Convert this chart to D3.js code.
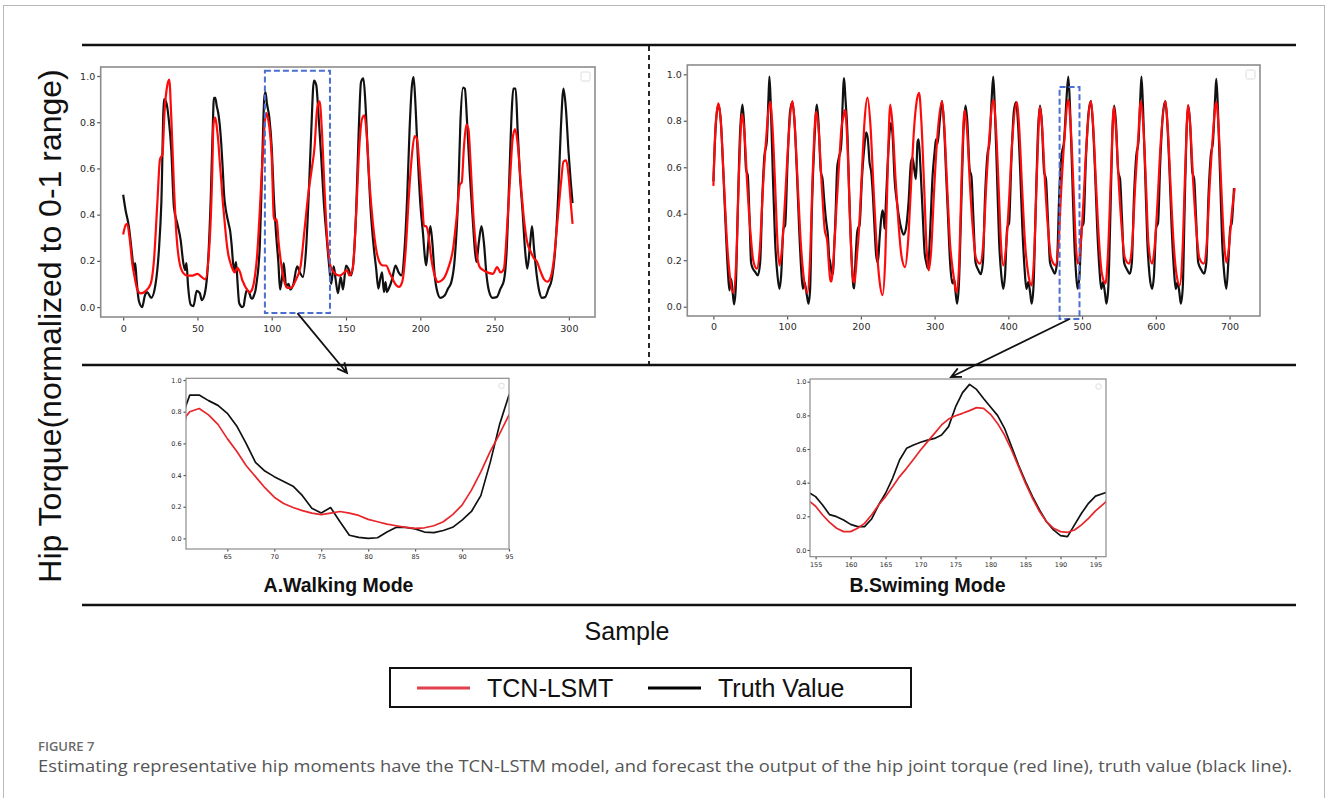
<!DOCTYPE html>
<html>
<head>
<meta charset="utf-8">
<script src="https://cdn.jsdelivr.net/npm/d3@7"></script>
<style>
body { margin: 0; background: #fff; }
</style>
</head>
<body>
<script>
// values: [sample, normalized torque]
const walkTruth = [[0,0.486],[1.6,0.42],[3.8,0.35],[6.1,0.22],[7.2,0.155],[8.1,0.19],[9,0.12],[10.6,0.026],[12.8,0.0],[14.6,0.05],[16.2,0.065],[18.9,0.04],[21.8,0.10],[24.1,0.25],[25.7,0.45],[27.5,0.90],[28.8,0.89],[30.9,0.80],[32.4,0.68],[34.2,0.43],[36.5,0.36],[38.7,0.29],[40.5,0.19],[41.7,0.16],[42.6,0.19],[43.7,0.09],[45.5,0.01],[47.3,0.004],[49.5,0.07],[51.6,0.06],[52.9,0.03],[55,0.06],[57.2,0.20],[59,0.48],[60.6,0.84],
[61,0.905],[62,0.905],[63,0.87],[64,0.84],[65,0.79],[66,0.71],[67,0.60],[68,0.48],[69,0.425],[70,0.39],[71,0.36],[72,0.33],[73,0.27],[74,0.19],[75,0.16],[76,0.195],[77,0.105],[78,0.02],[79,0.006],[80,0.0],[81,0.004],[82,0.04],[83,0.07],[84,0.07],[85,0.06],[86,0.04],[87,0.036],[88,0.05],[89,0.07],[90,0.115],[91,0.17],[92,0.27],[93,0.48],[94,0.72],[95,0.905],
[95.8,0.93],[96.8,0.88],[98.4,0.82],[100,0.69],[101.4,0.48],[102.9,0.32],[104.5,0.19],[105.6,0.076],[106.8,0.12],[108.1,0.19],[109.7,0.09],[111.3,0.10],[112.6,0.076],[114.6,0.10],[117.1,0.176],[119.1,0.147],[121,0.13],[123.2,0.26],[125,0.50],[126.6,0.76],[128.4,0.98],[130,0.96],[131.5,0.83],[133.3,0.65],[135.1,0.45],[137,0.30],[138.7,0.176],[140,0.10],[141.7,0.176],[143,0.12],[144.6,0.06],[146.4,0.13],[148,0.076],[150,0.18],[151.6,0.166],[153.4,0.137],[155,0.195],[156.8,0.41],[158.6,0.77],[160.1,0.974],[161.7,0.99],[163,0.89],[164.6,0.67],[166.4,0.44],[168.5,0.27],[170.3,0.166],[171.8,0.08],[173,0.12],[174.3,0.15],[175.5,0.065],[176.6,0.108],[177.5,0.065],[178.8,0.08],[181,0.12],[183.3,0.18],[185.4,0.15],[187.2,0.137],[189.4,0.25],[191.2,0.48],[192.8,0.77],[194.4,0.96],[195.5,0.995],[196.8,0.87],[198.4,0.64],[200,0.45],[201.8,0.32],[203.2,0.21],[204,0.18],[205.4,0.28],[206.8,0.35],[208.1,0.28],[209.7,0.137],[211.5,0.065],[213.5,0.04],[216.4,0.05],[218.7,0.08],[220.9,0.108],[223.2,0.21],[225.5,0.48],[227,0.80],[228.8,0.95],[230,0.945],[231.5,0.80],[233.3,0.58],[235.1,0.40],[236.7,0.25],[237.8,0.195],[239.4,0.28],[241.2,0.35],[242.8,0.28],[244.6,0.137],[246.4,0.065],[248.6,0.04],[251.4,0.043],[254,0.08],[256.3,0.115],[258.1,0.24],[259.9,0.555],[261.5,0.84],[262.6,0.945],[264.2,0.945],[265.5,0.77],[267.1,0.57],[268.9,0.41],[270.5,0.25],[272,0.166],[273.9,0.27],[275.2,0.35],[276.6,0.25],[278.4,0.137],[280.2,0.065],[281.8,0.04],[284,0.043],[286.3,0.08],[288.5,0.12],[290.8,0.25],[293,0.51],[294.6,0.77],[296.4,0.945],[298,0.86],[299.8,0.67],[301.3,0.54],[302.5,0.45]];

const walkPred = [[0,0.314],[1.6,0.354],[2.7,0.36],[4.5,0.29],[6.1,0.19],[7.7,0.13],[9.5,0.076],[11.7,0.059],[15.1,0.069],[18.5,0.10],[20.7,0.20],[23,0.45],[24.8,0.64],[26.4,0.66],[27.9,0.85],[29.7,0.96],[31,0.985],[32.4,0.82],[34.2,0.52],[36,0.30],[38,0.19],[40.5,0.147],[43.2,0.136],[46.6,0.136],[50,0.144],[52.3,0.133],[55.2,0.12],[57.9,0.25],[60.1,0.62],[60.6,0.77],
[61,0.80],[62,0.82],[63,0.78],[64,0.72],[65,0.63],[66,0.55],[67,0.46],[68,0.39],[69,0.32],[70,0.26],[71,0.22],[72,0.195],[73,0.175],[74,0.16],[75,0.15],[76,0.16],[77,0.17],[78,0.16],[79,0.145],[80,0.12],[81,0.105],[82,0.09],[83,0.08],[84,0.07],[85,0.063],[86,0.067],[87,0.08],[88,0.105],[89,0.15],[90,0.21],[91,0.305],[92,0.42],[93,0.55],[94,0.66],[95,0.78],
[96.3,0.84],[97.3,0.82],[98.4,0.78],[100,0.65],[101.4,0.39],[102.3,0.375],[103.4,0.38],[104.5,0.29],[106.3,0.19],[108.1,0.12],[110.4,0.083],[113,0.083],[116.4,0.12],[119.4,0.176],[122,0.33],[124.8,0.50],[127,0.60],[128.8,0.69],[130.6,0.86],[132.2,0.89],[133.8,0.76],[135.6,0.50],[137.4,0.29],[139.6,0.176],[142.3,0.147],[145.7,0.136],[148.9,0.15],[150.5,0.16],[152.3,0.137],[154.5,0.166],[156.8,0.40],[159,0.70],[160.8,0.815],[162.4,0.83],[164,0.74],[165.8,0.54],[168,0.37],[170.3,0.25],[172.5,0.195],[174.8,0.18],[177,0.18],[179.3,0.15],[181.5,0.12],[183.8,0.094],[185.6,0.087],[187.8,0.108],[190.1,0.24],[192.3,0.48],[194.4,0.66],[196.2,0.74],[197.7,0.73],[199.5,0.60],[201.4,0.44],[202.5,0.35],[204,0.35],[205.2,0.325],[207.4,0.21],[209.7,0.137],[211.9,0.108],[215.3,0.12],[218.7,0.166],[222,0.25],[224.8,0.41],[226.6,0.53],[227.9,0.54],[229.3,0.685],[231,0.79],[232.4,0.77],[233.8,0.63],[235.6,0.41],[237.8,0.24],[240,0.173],[242.3,0.16],[245.6,0.149],[249,0.144],[251.7,0.173],[254,0.15],[256.3,0.166],[258.1,0.31],[260.4,0.555],[262.2,0.73],[263.8,0.77],[265.5,0.71],[267.6,0.54],[269.8,0.38],[272,0.28],[274.3,0.24],[276.6,0.21],[278.4,0.198],[280.6,0.16],[283.3,0.12],[285.5,0.11],[287.8,0.13],[290,0.21],[292.3,0.37],[294.6,0.53],[296.4,0.63],[298.2,0.635],[299.8,0.57],[301.3,0.45],[302.5,0.36]];

const swimTruth = [[0,0.54],[3,0.77],[6.8,0.87],[10,0.80],[13.6,0.57],[16.7,0.34],[19.5,0.16],[21.7,0.07],[24,0.12],[26.2,0.06],[28,0.01],[30.3,0.08],[33,0.41],[36.2,0.75],[39.4,0.87],[41.6,0.79],[44.3,0.59],[46.6,0.565],[48.9,0.39],[51.1,0.19],[53.4,0.165],[56.6,0.15],[60.2,0.135],[63.4,0.19],[66.5,0.48],[69.2,0.65],[72.4,0.71],[74.7,0.90],[76,0.99],[77.8,0.87],[80.5,0.58],[83.7,0.28],[86.9,0.135],[89.6,0.077],[91.9,0.135],[95,0.336],[97.3,0.35],[100.5,0.62],[104,0.84],[107.2,0.88],[110,0.795],[113.1,0.59],[116.3,0.336],[119,0.164],[121.3,0.077],[123.5,0.106],[126.7,0.05],[129,0.013],[131.2,0.077],[133.5,0.41],[137.1,0.72],[140.3,0.87],[142.5,0.795],[145.7,0.58],[148,0.55],[150.5,0.45],[152.5,0.38],
[154.2,0.337],[155,0.317],[156,0.267],[157,0.21],[158,0.198],[159,0.178],[160,0.152],[161,0.139],[162,0.139],[163,0.184],[164,0.267],[165,0.337],[166,0.426],[167,0.535],[168,0.604],[169,0.624],[170,0.64],[171,0.653],[172,0.663],[173,0.683],[174,0.733],[175,0.85],[176,0.935],[177,0.984],[178,0.954],[179,0.90],[180,0.85],[181,0.80],[182,0.723],[183,0.614],[184,0.505],[185,0.406],[186,0.317],[187,0.238],[188,0.168],[189,0.119],[190,0.085],[191,0.079],[192,0.149],[193,0.218],[194,0.277],[195,0.32],[196.4,0.34],
[198.2,0.35],[201.4,0.55],[204.5,0.68],[207.2,0.75],[209.5,0.72],[211.8,0.62],[214,0.58],[216.3,0.48],[218.6,0.336],[220.8,0.22],[223.1,0.19],[225.3,0.29],[227.6,0.38],[229.4,0.415],[231.2,0.38],[232.1,0.336],[234.4,0.48],[237.6,0.69],[240.7,0.79],[243,0.74],[245.7,0.55],[248.9,0.45],[252,0.38],[254.8,0.336],[257.9,0.31],[261.1,0.336],[264.7,0.45],[267.9,0.62],[270.1,0.64],[272.9,0.58],[274.7,0.55],[276.9,0.71],[278.3,0.72],[280.5,0.62],[283.7,0.41],[286.4,0.235],[288.7,0.19],[291,0.164],[294.1,0.336],[297.3,0.565],[300,0.665],[301.8,0.72],[304,0.70],[307,0.80],[310,0.885],[312.5,0.80],[315.5,0.58],[318,0.40],[321,0.19],[324,0.10],[326.5,0.12],[328.5,0.06],[330.5,0.013],[333,0.10],[336,0.42],[339,0.75],[342,0.865],[344.5,0.79],[347.5,0.59],[350,0.56],[352.5,0.39],[355.5,0.19],[359,0.16],[362.6,0.14],[365.5,0.19],[368.5,0.48],[371.5,0.65],[374.5,0.71],[377.5,0.90],[379.5,0.99],[381.5,0.87],[384.5,0.58],[387.5,0.28],[390.5,0.135],[393,0.077],[395.5,0.135],[398.5,0.34],[401,0.36],[404,0.62],[407.5,0.84],[410.5,0.88],[413,0.795],[416,0.59],[419,0.34],[422,0.164],[424.5,0.077],[427,0.106],[429.5,0.063],[431.6,0.013],[434,0.08],[437,0.41],[440,0.74],[442.9,0.865],[445.5,0.79],[448.5,0.58],[451,0.55],[453.5,0.39],[456.5,0.19],[460,0.16],[463,0.142],[466,0.19],[469,0.48],[472,0.65],[475.5,0.71],[479,0.90],[481.3,0.99],[483.5,0.87],[486.5,0.58],[489.5,0.28],[492,0.135],[494,0.077],[496.5,0.135],[499.5,0.34],[502,0.36],[505,0.62],[509,0.84],[512,0.885],[514.5,0.795],[517.5,0.59],[520.5,0.34],[523.5,0.164],[526,0.077],[528.5,0.106],[531,0.06],[533,0.013],[535.5,0.08],[538.5,0.41],[541,0.74],[543.5,0.865],[546,0.79],[549,0.58],[551.5,0.55],[554,0.39],[557,0.19],[561,0.16],[564.8,0.142],[567.5,0.19],[570.5,0.48],[573.5,0.65],[576.5,0.71],[579,0.90],[580.5,0.99],[582.5,0.87],[585.5,0.58],[588.5,0.28],[591.5,0.135],[595,0.077],[597.5,0.135],[600.5,0.34],[603,0.36],[606,0.62],[610,0.84],[613,0.885],[615.5,0.795],[618.5,0.59],[621.5,0.34],[624.5,0.164],[627,0.077],[629.5,0.106],[632,0.06],[633.9,0.013],[636.5,0.08],[639,0.41],[641.5,0.74],[644,0.865],[646.5,0.79],[649.5,0.58],[652,0.55],[654.5,0.39],[657.5,0.19],[661.5,0.16],[665.5,0.142],[668.5,0.19],[671.5,0.48],[674.5,0.65],[677.5,0.71],[680.5,0.90],[682,0.98],[684,0.87],[687,0.58],[690,0.28],[693,0.135],[695.7,0.077],[698.5,0.2],[701,0.34],[703,0.36],[706,0.51]];

const swimPred = [[0,0.52],[3,0.78],[6.8,0.875],[10,0.80],[14,0.55],[18,0.30],[22,0.14],[27,0.06],[31,0.20],[35,0.60],[38.8,0.83],[42,0.75],[46,0.52],[50,0.33],[54,0.20],[58.8,0.164],[63,0.25],[67,0.50],[71,0.70],[77,0.88],[80,0.78],[84,0.50],[87,0.27],[89.6,0.178],[93,0.25],[97,0.45],[101,0.68],[107.2,0.885],[110,0.80],[114,0.55],[118,0.30],[122,0.14],[127.5,0.06],[131,0.20],[135,0.60],[139.4,0.84],[143,0.75],[147,0.52],[151,0.33],
[154.2,0.287],[155,0.26],[156,0.208],[157,0.164],[158,0.129],[159,0.109],[160,0.109],[161,0.129],[162,0.158],[163,0.208],[164,0.267],[165,0.317],[166,0.376],[167,0.436],[168,0.485],[169,0.539],[170,0.594],[171,0.644],[172,0.693],[173,0.743],[174,0.778],[175,0.798],[176,0.812],[177,0.828],[178,0.846],[179,0.842],[180,0.806],[181,0.752],[182,0.683],[183,0.594],[184,0.495],[185,0.396],[186,0.307],[187,0.228],[188,0.168],[189,0.129],[190,0.109],[191,0.105],[192,0.119],[193,0.149],[194,0.188],[195,0.232],[196.4,0.283],
[199,0.42],[202,0.62],[205,0.80],[209,0.90],[213,0.78],[217,0.52],[221,0.28],[225,0.12],[229.4,0.05],[233,0.20],[236.5,0.60],[239.8,0.87],[243,0.78],[247,0.55],[251,0.36],[255,0.22],[260,0.17],[264,0.28],[268,0.52],[272,0.76],[275.5,0.88],[279,0.92],[282,0.80],[286,0.50],[289,0.26],[292,0.156],[295.5,0.25],[299,0.48],[303,0.70],[310,0.885],[313,0.78],[317,0.52],[321,0.27],[325,0.15],[330,0.063],[333.5,0.20],[337,0.60],[340.7,0.845],[344,0.76],[348,0.52],[352,0.33],[356,0.21],[361.6,0.185],[366,0.27],[370,0.52],[374,0.72],[379.7,0.89],[383,0.78],[387,0.50],[390,0.27],[393.2,0.178],[397,0.26],[401,0.46],[405,0.70],[411.3,0.88],[414.5,0.78],[418.5,0.52],[422.5,0.28],[427,0.14],[431.6,0.092],[435,0.22],[439,0.60],[442.9,0.86],[446,0.76],[450,0.52],[454,0.33],[458,0.21],[464,0.178],[468,0.27],[472,0.52],[476,0.72],[481.3,0.89],[484.5,0.78],[488.5,0.50],[491.5,0.27],[494,0.185],[498,0.26],[502,0.46],[506,0.70],[512,0.885],[515,0.78],[519,0.52],[523,0.28],[527,0.14],[531.8,0.10],[535,0.22],[539.5,0.60],[543,0.86],[546,0.76],[550,0.52],[554,0.33],[558,0.21],[563.9,0.185],[568,0.27],[572,0.52],[576,0.72],[579.7,0.885],[583,0.78],[587,0.50],[590,0.27],[595,0.185],[598.5,0.26],[602.5,0.46],[606.5,0.70],[613,0.885],[616,0.78],[620,0.52],[624,0.28],[628,0.14],[632.5,0.092],[636,0.22],[640,0.60],[643.8,0.867],[647,0.76],[651,0.52],[655,0.33],[659,0.21],[665,0.185],[669,0.27],[673,0.52],[677,0.72],[682,0.88],[685,0.78],[689,0.50],[692.5,0.28],[695.7,0.19],[699,0.25],[703,0.40],[707,0.51]];

// tick labels
const ticksY = [0.0, 0.2, 0.4, 0.6, 0.8, 1.0];
const walkTicksX = [0, 50, 100, 150, 200, 250, 300];
const swimTicksX = [0, 100, 200, 300, 400, 500, 600, 700];
const walkZoomTicksX = [65, 70, 75, 80, 85, 90, 95];
const swimZoomTicksX = [155, 160, 165, 170, 175, 180, 185, 190, 195];

// highlighted windows [x0, x1, y0, y1] in data units
const walkBox = [95.4, 139.2, -0.026, 1.023];
const swimBox = [469.5, 496.5, -0.053, 0.945];

const legendItems = [{name: "TCN-LSMT", color: "#e2404c"}, {name: "Truth Value", color: "#000"}];

const svg = d3.select("body").append("svg")
    .attr("width", 1328)
    .attr("height", 798)
    .style("display", "block");

//light frame around the whole figure
svg.append("rect")
    .attr("x", 3.5).attr("y", 5.5)
    .attr("width", 1321).attr("height", 800)
    .attr("fill", "none")
    .attr("stroke", "#b8b8b8");

//the three long rules and the dashed divider
[45, 365, 605].forEach(yy => {
    svg.append("line")
        .attr("x1", 82).attr("x2", 1296)
        .attr("y1", yy).attr("y2", yy)
        .attr("stroke", "#111")
        .attr("stroke-width", 2.5);
});
svg.append("line")
    .attr("x1", 649).attr("x2", 649)
    .attr("y1", 46).attr("y2", 364)
    .attr("stroke", "#111")
    .attr("stroke-width", 1.8)
    .attr("stroke-dasharray", "5,4");

function drawPanel(p) {
    const x = d3.scaleLinear().domain(p.xDomain).range([p.left, p.right]);
    const y = d3.scaleLinear().domain(p.yDomain).range([p.bottom, p.top]);

    svg.append("clipPath").attr("id", "clip-" + p.id)
        .append("rect")
        .attr("x", p.left).attr("y", p.top)
        .attr("width", p.right - p.left).attr("height", p.bottom - p.top);

    //axes, matplotlib look
    const ax = svg.append("g")
        .attr("transform", `translate(0, ${p.bottom})`)
        .call(d3.axisBottom(x).tickValues(p.ticksX).tickSize(p.tick).tickPadding(p.padX).tickFormat(d3.format("d")));
    const ay = svg.append("g")
        .attr("transform", `translate(${p.left}, 0)`)
        .call(d3.axisLeft(y).tickValues(ticksY).tickSize(p.tick).tickPadding(p.padY).tickFormat(d3.format(".1f")));
    [ax, ay].forEach(a => {
        a.select(".domain").remove();
        a.selectAll("line").attr("stroke", "#555").attr("stroke-width", 1.2);
        a.selectAll("text")
            .attr("fill", "#2a2a2a")
            .style("font-family", "'DejaVu Sans', sans-serif")
            .style("font-size", p.font + "px");
    });

    const line = d3.line()
        .x(d => x(d[0]))
        .y(d => y(d[1]))
        .curve(p.curve);
    const inView = d => d[0] >= p.xDomain[0] - 3 && d[0] <= p.xDomain[1] + 3;

    const g = svg.append("g").attr("clip-path", `url(#clip-${p.id})`);
    g.append("path")
        .datum(p.truth.filter(inView))
        .attr("d", line)
        .attr("fill", "none")
        .attr("stroke", "#111")
        .attr("stroke-width", p.lw)
        .attr("stroke-linejoin", "round");
    g.append("path")
        .datum(p.pred.filter(inView))
        .attr("d", line)
        .attr("fill", "none")
        .attr("stroke", p.red)
        .attr("stroke-width", p.lw)
        .attr("stroke-linejoin", "round");

    //frame
    svg.append("rect")
        .attr("x", p.left).attr("y", p.top)
        .attr("width", p.right - p.left).attr("height", p.bottom - p.top)
        .attr("fill", "none")
        .attr("stroke", "#8c8c8c")
        .attr("stroke-width", p.frameW);

    //empty legend left by matplotlib
    svg.append("rect")
        .attr("x", p.right - p.leg - 5).attr("y", p.top + 5)
        .attr("width", p.leg).attr("height", p.leg)
        .attr("rx", 1.5)
        .attr("fill", "none")
        .attr("stroke", "#dcdcdc");

    return {x, y};
}

const walk = drawPanel({
    id: "walk", left: 100.7, right: 595, top: 67, bottom: 317,
    xDomain: [-15.12, 317.6], yDomain: [-0.043, 1.039],
    ticksX: walkTicksX, tick: 3.5, padX: 5, padY: 2, font: 9.5,
    truth: walkTruth, pred: walkPred, red: "#ff0a0a", lw: 2.2,
    curve: d3.curveMonotoneX, frameW: 1.6, leg: 9
});
const swim = drawPanel({
    id: "swim", left: 687.3, right: 1260, top: 65, bottom: 316,
    xDomain: [-35.4, 741.3], yDomain: [-0.04, 1.04],
    ticksX: swimTicksX, tick: 3.5, padX: 3.5, padY: 2, font: 9.5,
    truth: swimTruth, pred: swimPred, red: "#ff0a0a", lw: 2.2,
    curve: d3.curveMonotoneX, frameW: 1.6, leg: 9
});
drawPanel({
    id: "walkZoom", left: 186, right: 509, top: 378.3, bottom: 549,
    xDomain: [60.6, 95], yDomain: [-0.067, 1.011],
    ticksX: walkZoomTicksX, tick: 2.5, padX: 3, padY: 1.8, font: 6.5,
    truth: walkTruth, pred: walkPred, red: "#e8262a", lw: 1.7,
    curve: d3.curveLinear, frameW: 1.2, leg: 5
});
drawPanel({
    id: "swimZoom", left: 810, right: 1106, top: 379, bottom: 556.7,
    xDomain: [154.2, 196.5], yDomain: [-0.04, 1.016],
    ticksX: swimZoomTicksX, tick: 2.5, padX: 2.7, padY: 1, font: 6.5,
    truth: swimTruth, pred: swimPred, red: "#e8262a", lw: 1.7,
    curve: d3.curveLinear, frameW: 1.2, leg: 5
});

//dashed boxes marking the zoomed windows
[[walk, walkBox], [swim, swimBox]].forEach(([s, b]) => {
    svg.append("rect")
        .attr("x", s.x(b[0])).attr("y", s.y(b[3]))
        .attr("width", s.x(b[1]) - s.x(b[0]))
        .attr("height", s.y(b[2]) - s.y(b[3]))
        .attr("fill", "none")
        .attr("stroke", "#4a6fd0")
        .attr("stroke-width", 2)
        .attr("stroke-dasharray", "6,3");
});

//arrows from the boxes down to the zoomed plots
function arrow(x1, y1, x2, y2) {
    const a = Math.atan2(y2 - y1, x2 - x1);
    const len = 11, spread = 0.45;
    svg.append("path")
        .attr("d", `M${x1},${y1}L${x2},${y2}` +
            `M${x2 - len * Math.cos(a - spread)},${y2 - len * Math.sin(a - spread)}L${x2},${y2}` +
            `L${x2 - len * Math.cos(a + spread)},${y2 - len * Math.sin(a + spread)}`)
        .attr("fill", "none")
        .attr("stroke", "#111")
        .attr("stroke-width", 1.8);
}
arrow(walk.x((walkBox[0] + walkBox[1]) / 2), walk.y(walkBox[2]), 347, 373);
arrow(swim.x((swimBox[0] + swimBox[1]) / 2), swim.y(swimBox[2]), 951, 377);

//titles under the zoomed plots
svg.append("text")
    .attr("x", 338.5).attr("y", 592)
    .attr("text-anchor", "middle")
    .style("font-family", "'Liberation Sans', Arial, sans-serif")
    .style("font-weight", "bold")
    .style("font-size", "19.5px")
    .attr("fill", "#111")
    .text("A.Walking Mode");
svg.append("text")
    .attr("x", 927.5).attr("y", 592)
    .attr("text-anchor", "middle")
    .style("font-family", "'Liberation Sans', Arial, sans-serif")
    .style("font-weight", "bold")
    .style("font-size", "19.5px")
    .attr("fill", "#111")
    .text("B.Swiming Mode");

//shared axis labels
svg.append("text")
    .attr("transform", "translate(61, 326) rotate(-90)")
    .attr("text-anchor", "middle")
    .style("font-family", "'Liberation Sans', Arial, sans-serif")
    .style("font-size", "32px")
    .attr("fill", "#111")
    .text("Hip Torque(normalized to 0-1 range)");
svg.append("text")
    .attr("x", 627).attr("y", 640)
    .attr("text-anchor", "middle")
    .style("font-family", "'Liberation Sans', Arial, sans-serif")
    .style("font-size", "25px")
    .attr("fill", "#111")
    .text("Sample");

//legend
svg.append("rect")
    .attr("x", 390).attr("y", 668)
    .attr("width", 521).attr("height", 39)
    .attr("fill", "#fff")
    .attr("stroke", "#111")
    .attr("stroke-width", 2);
const legendX = [417, 648];
legendItems.forEach((d, i) => {
    svg.append("line")
        .attr("x1", legendX[i]).attr("x2", legendX[i] + 53)
        .attr("y1", 688).attr("y2", 688)
        .attr("stroke", d.color)
        .attr("stroke-width", 3);
    svg.append("text")
        .attr("x", legendX[i] + 70).attr("y", 696.5)
        .style("font-family", "'Liberation Sans', Arial, sans-serif")
        .style("font-size", "25px")
        .attr("fill", "#111")
        .text(d.name);
});

//caption
svg.append("text")
    .attr("x", 38).attr("y", 751)
    .style("font-family", "'Open Sans', sans-serif")
    .style("font-size", "13px")
    .style("font-weight", "600")
    .attr("fill", "#6a6a6a")
    .text("FIGURE 7");
svg.append("text")
    .attr("x", 38).attr("y", 772)
    .attr("textLength", 1254)
    .attr("lengthAdjust", "spacingAndGlyphs")
    .style("font-family", "'Open Sans', sans-serif")
    .style("font-size", "17px")
    .attr("fill", "#555")
    .text("Estimating representative hip moments have the TCN-LSTM model, and forecast the output of the hip joint torque (red line), truth value (black line).");
</script>
</body>
</html>
